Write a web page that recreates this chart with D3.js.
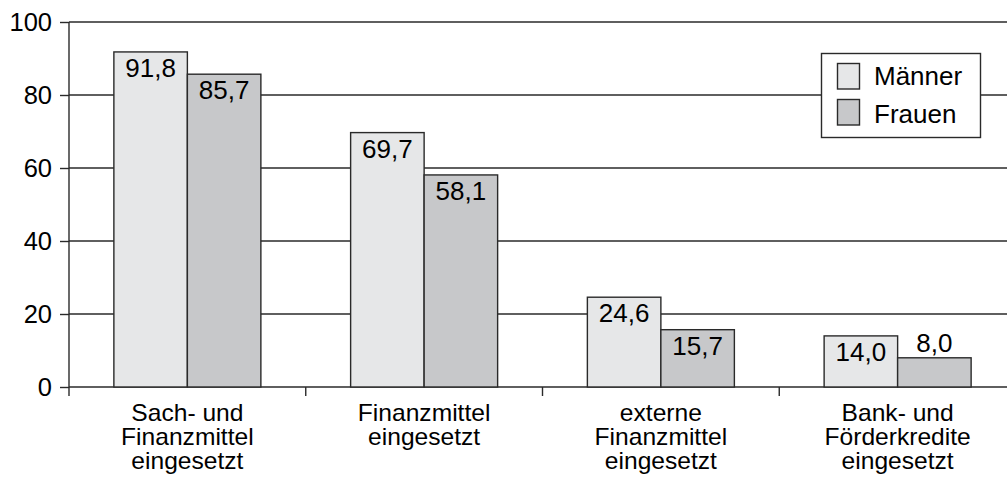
<!DOCTYPE html>
<html><head><meta charset="utf-8">
<script src="https://cdn.jsdelivr.net/npm/d3@7"></script>
<style>body{margin:0;background:#fff}svg{display:block}text{font-family:"Liberation Sans",Arial,sans-serif;fill:#000}</style>
</head><body><svg id="c" width="1007" height="483"></svg>
<script>
const categories = [["Sach- und","Finanzmittel","eingesetzt"],["Finanzmittel","eingesetzt"],["externe","Finanzmittel","eingesetzt"],["Bank- und","Förderkredite","eingesetzt"]];
const seriesNames = ["Männer","Frauen"];
const maenner = [91.8, 69.7, 24.6, 14.0];
const frauen = [85.7, 58.1, 15.7, 8.0];
const yTicks = [0,20,40,60,80,100];
const colors = ["#e6e7e8","#c7c8ca"];

const svg = d3.select("#c");
const mL = 69, mR = 1016, mT = 22, mB = 387;
const y = d3.scaleLinear().domain([0,100]).range([mB, mT]);
const x0 = d3.scaleBand().domain(d3.range(categories.length)).range([mL, mR]);
const barW = 73.5;
const x1 = d3.scaleBand().domain([0,1]).range([-barW, barW]);
const fmt = v => d3.format(".1f")(v).replace(".", ",");
const stroke = "#2a2a2a";
const FF = '"Liberation Sans",Arial,sans-serif';

// gridlines
svg.append("g").selectAll("line").data(yTicks).join("line")
  .attr("x1", mL).attr("x2", 1007).attr("y1", d=>y(d)).attr("y2", d=>y(d))
  .attr("stroke", stroke).attr("stroke-width", 1.4);

// y axis
const yAxis = d3.axisLeft(y).tickValues(yTicks).tickSize(9).tickPadding(8).tickFormat(d=>d);
const ga = svg.append("g").attr("transform", `translate(${mL},0)`).call(yAxis);
ga.select(".domain").remove();
ga.selectAll(".tick line").attr("stroke", stroke).attr("stroke-width", 1.4);
ga.selectAll(".tick text").attr("font-size", 25.5).attr("font-family", FF).attr("fill","#000").attr("dy","0.35em");
svg.append("line").attr("x1", mL).attr("x2", mL).attr("y1", mT).attr("y2", mB+9)
  .attr("stroke", stroke).attr("stroke-width", 1.4);
// category separator ticks
svg.append("g").selectAll("line").data(d3.range(1, categories.length)).join("line")
  .attr("x1", d=>x0(d)).attr("x2", d=>x0(d)).attr("y1", mB).attr("y2", mB+9)
  .attr("stroke", stroke).attr("stroke-width", 1.4);

// bars
const data = [];
categories.forEach((c,i)=>{ [maenner[i], frauen[i]].forEach((v,s)=>data.push({i,s,v})); });
const cx = i => x0(i) + x0.bandwidth()/2;
svg.append("g").selectAll("rect").data(data).join("rect")
  .attr("x", d=>cx(d.i)+x1(d.s)).attr("width", x1.bandwidth())
  .attr("y", d=>y(d.v)).attr("height", d=>y(0)-y(d.v))
  .attr("fill", d=>colors[d.s]).attr("stroke", stroke).attr("stroke-width", 1.4);

// value labels
svg.append("g").selectAll("text").data(data).join("text")
  .attr("x", d=>cx(d.i)+x1(d.s)+x1.bandwidth()/2)
  .attr("y", d=> (y(0)-y(d.v) > 35) ? y(d.v)+25 : y(d.v)-6)
  .attr("text-anchor","middle").attr("font-size", 26)
  .text(d=>fmt(d.v));

// category labels
const cl = svg.append("g").selectAll("text").data(categories).join("text")
  .attr("text-anchor","middle").attr("font-size", 23)
  .attr("transform", (c,i)=>`translate(${cx(i)},0) scale(1.07,1)`);
cl.each(function(c,i){
  const t = d3.select(this);
  c.forEach((line,k)=>{
    t.append("tspan").attr("x", 0).attr("y", 421 + k*24).text(line);
  });
});

// legend
const lg = svg.append("g");
lg.append("rect").attr("x", 821.5).attr("y", 53.5).attr("width", 159).attr("height", 84)
  .attr("fill","#fff").attr("stroke", stroke).attr("stroke-width", 1.4);
seriesNames.forEach((n,s)=>{
  lg.append("rect").attr("x", 837.5).attr("y", 63.5 + s*36).attr("width", 22).attr("height", 25.5)
    .attr("fill", colors[s]).attr("stroke", stroke).attr("stroke-width", 1.4);
  lg.append("text").attr("x", 874).attr("y", 85 + s*38).attr("font-size", 26).text(n);
});
</script></body></html>
